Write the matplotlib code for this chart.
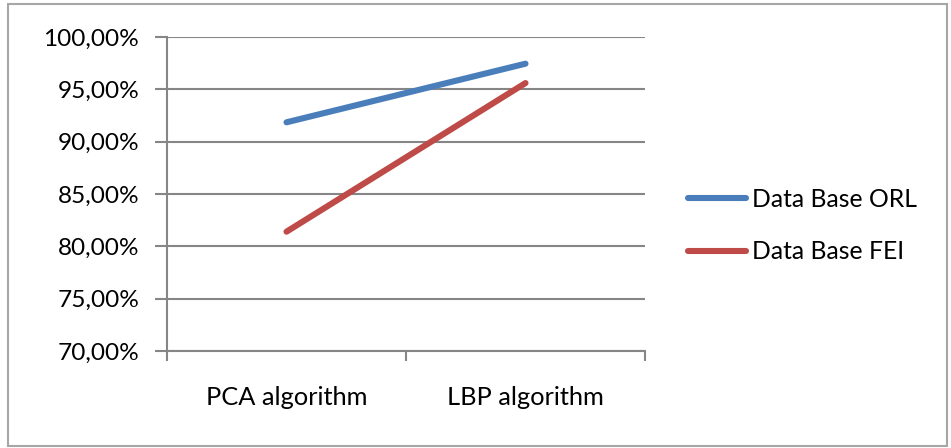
import matplotlib
matplotlib.use("Agg")
import matplotlib.pyplot as plt
from matplotlib.patches import Rectangle
from matplotlib.ticker import FuncFormatter, MultipleLocator

categories = ["PCA algorithm", "LBP algorithm"]
orl = [91.85, 97.45]
fei = [81.4, 95.6]
series_names = ["Data Base ORL", "Data Base FEI"]

plt.rcParams['font.family'] = ['Lato', 'DejaVu Sans']
W, H = 951, 448
fig = plt.figure(figsize=(W / 100, H / 100), dpi=100)
fig.patches.append(Rectangle((8 / W, 1 - 446 / H), (947 - 8) / W, (446 - 4) / H,
                             transform=fig.transFigure, fill=False,
                             edgecolor='#A6A6A6', linewidth=1.5))

left, right, top, bottom = 167, 645, 37, 351
ax = fig.add_axes([left / W, 1 - bottom / H, (right - left) / W, (bottom - top) / H])

x = [0.5, 1.5]
ax.plot(x, orl, color='#4A7EBB', linewidth=4.4, solid_capstyle='round', label=series_names[0])
ax.plot(x, fei, color='#BE4B48', linewidth=4.4, solid_capstyle='round', label=series_names[1])

ax.set_xlim(0, 2)
ax.set_ylim(70, 100)
ax.yaxis.set_major_locator(MultipleLocator(5))
ax.yaxis.set_major_formatter(FuncFormatter(lambda v, p: f"{v:.2f}".replace('.', ',') + "%"))
ax.set_xticks([0, 1, 2])
ax.set_xticklabels([])
ax.set_xticks(x, minor=True)
ax.set_xticklabels(categories, minor=True)
ax.tick_params(axis='x', which='minor', length=0, pad=25, labelsize=18.3)
ax.tick_params(axis='x', which='major', length=7, width=1.5, color='#868686')
ax.tick_params(axis='y', length=9, width=1.5, color='#868686', pad=11, labelsize=17.6)
ax.grid(axis='y', color='#868686', linewidth=1.5)
ax.set_axisbelow(True)
for s in ['top', 'right']:
    ax.spines[s].set_visible(False)
for s in ['left', 'bottom']:
    ax.spines[s].set_color('#868686')
    ax.spines[s].set_linewidth(1.5)

fig.legend(loc='center left', bbox_to_anchor=(688 / W, 1 - 225.5 / H), frameon=False,
           fontsize=17.8, handlelength=2.35, handletextpad=0.25, labelspacing=1.2,
           borderpad=0, borderaxespad=0)

fig.savefig("out.png", dpi=100)
